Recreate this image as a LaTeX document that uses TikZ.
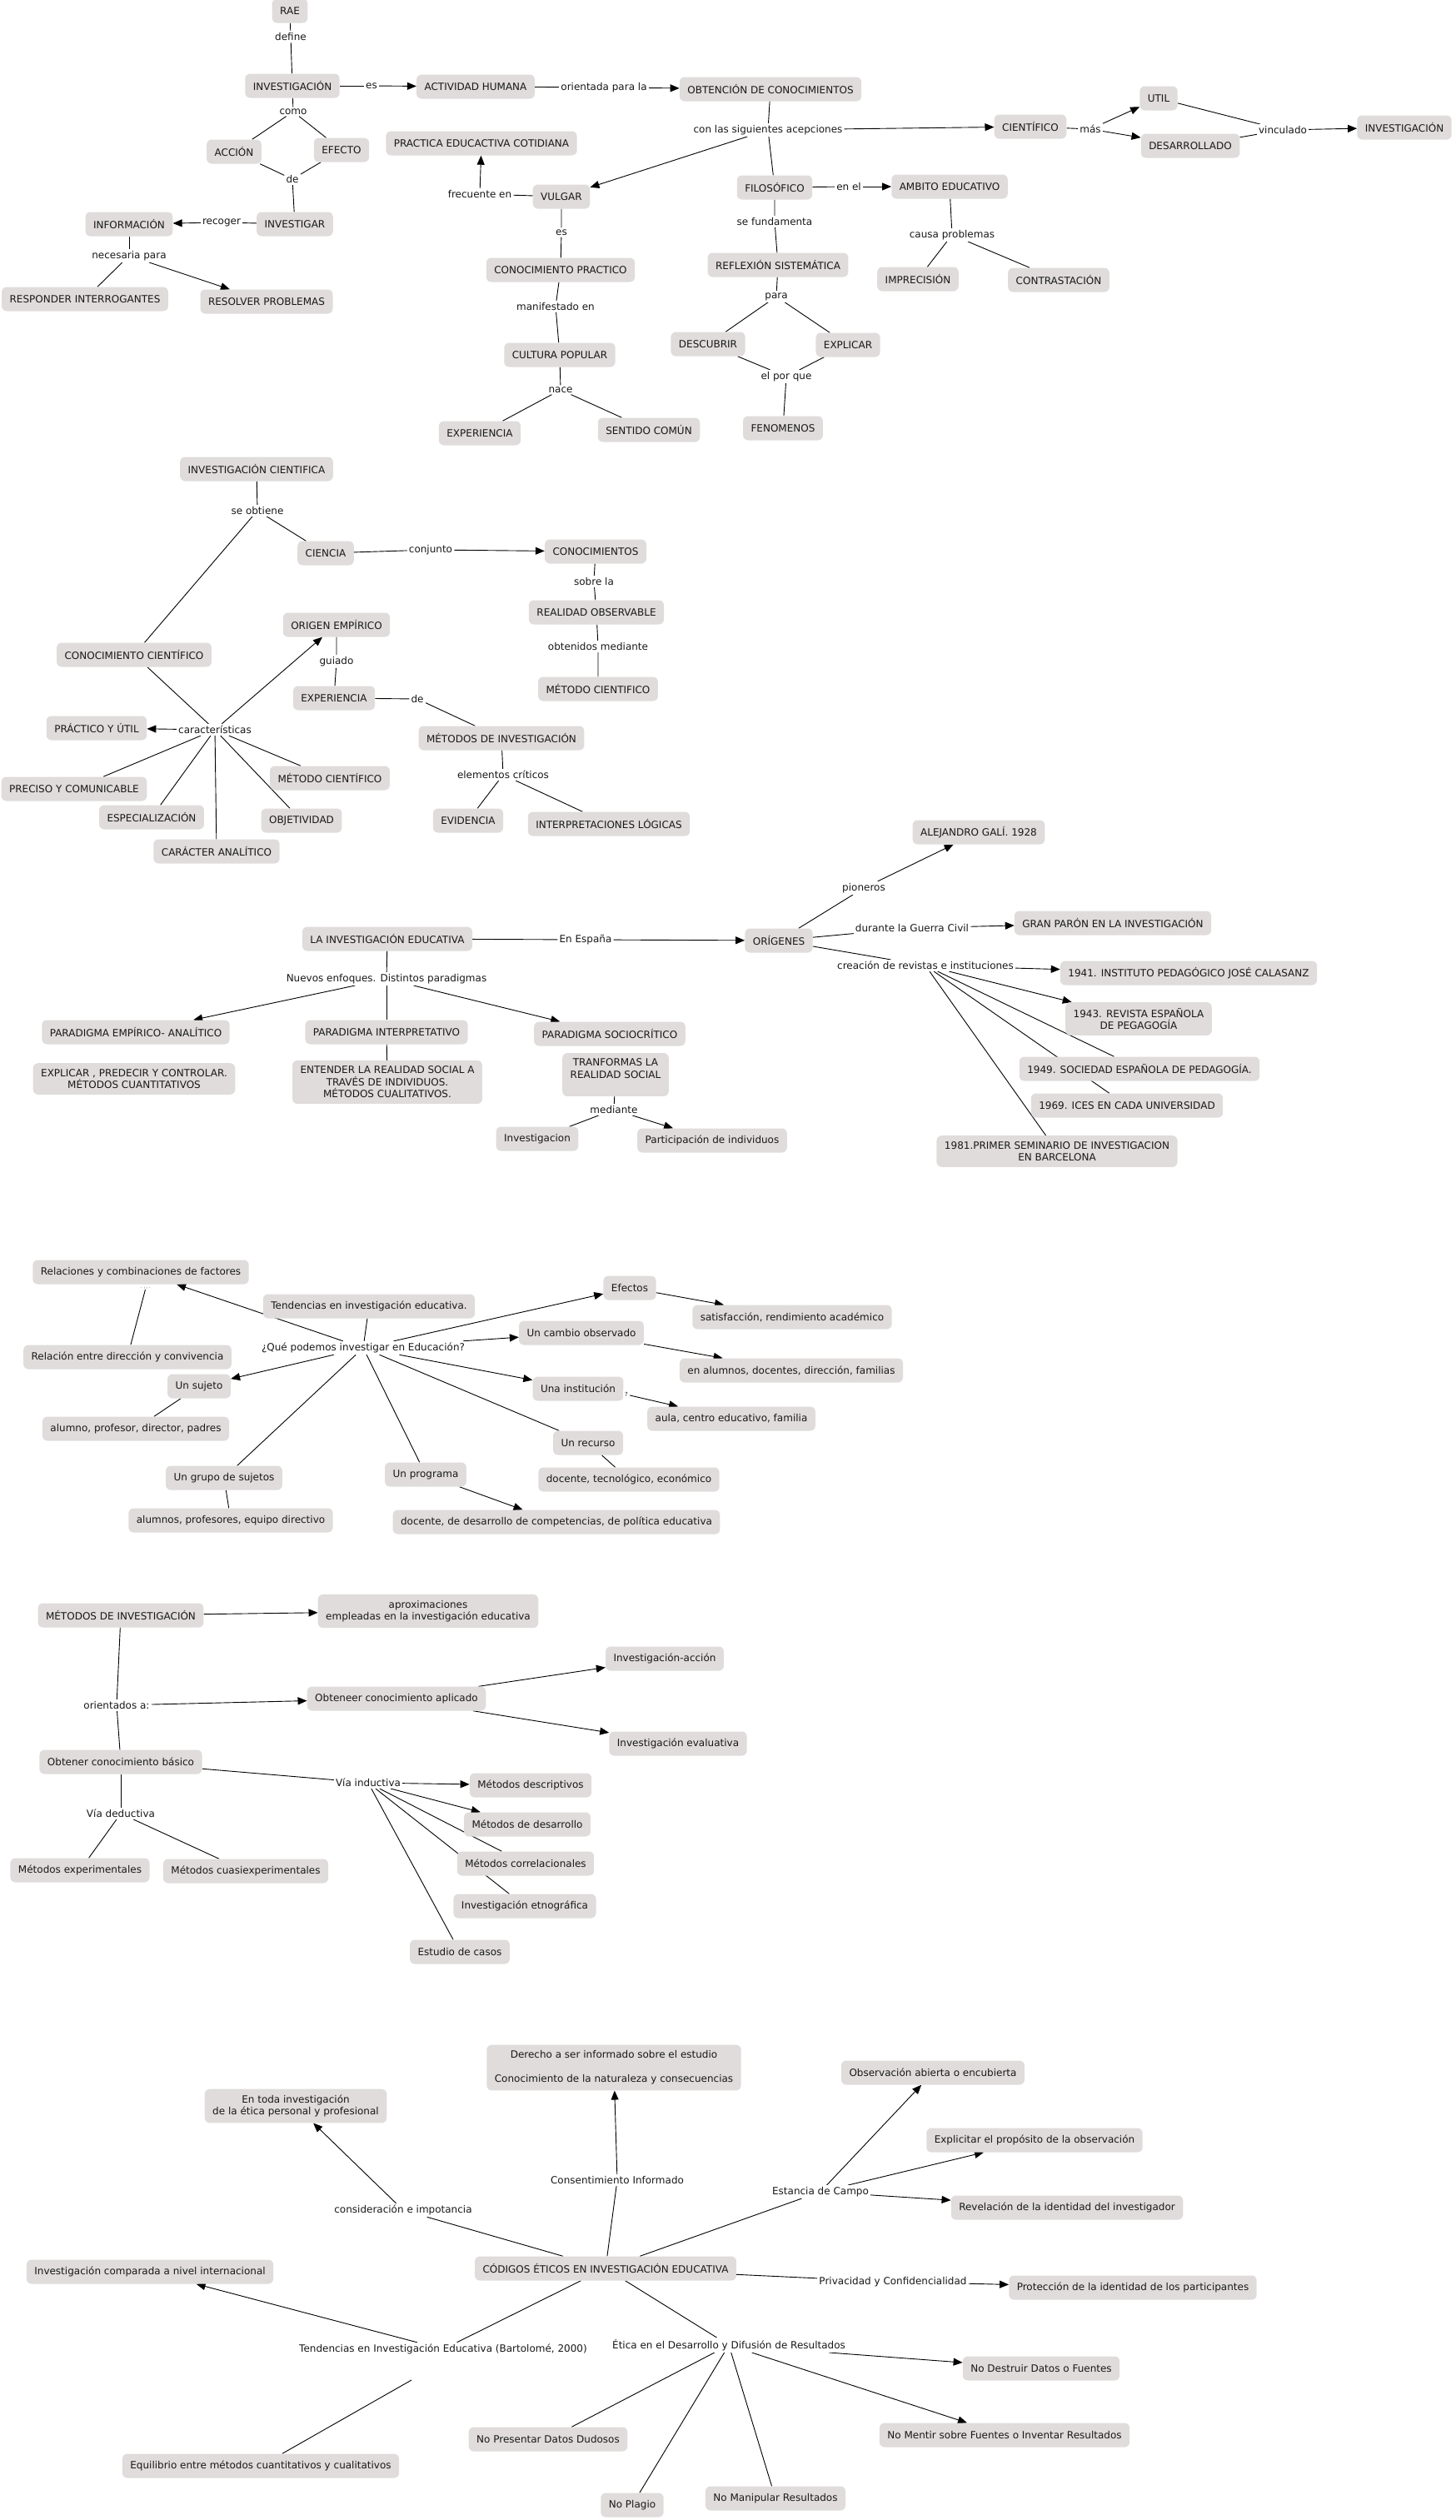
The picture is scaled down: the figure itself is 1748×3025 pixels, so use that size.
\documentclass[tikz,border=0pt]{standalone}
\usepackage{fontspec}
\setmainfont{DejaVu Sans}
\usetikzlibrary{arrows.meta,backgrounds}
\definecolor{boxgray}{RGB}{223,220,219}
\definecolor{inkgray}{RGB}{25,25,25}

\begin{document}
\begin{tikzpicture}[
    x=1pt, y=-1pt,
    font=\fontsize{12pt}{14.5pt}\selectfont,
    concept/.style={rectangle, rounded corners=6pt, fill=boxgray, text=inkgray,
                    inner xsep=9.5pt, inner ysep=7pt, minimum height=29pt, align=center},
    linkword/.style={fill=white, text=inkgray, inner sep=2pt, align=center},
    conn/.style={draw=black, line width=0.9pt},
    arr/.style={conn, -{Triangle[length=11pt,width=9pt]}},
]
    \useasboundingbox (0,0) rectangle (1748,3025);

    % Bloque 1: definicion de investigacion (RAE)
    \node[concept] (rae)          at (348,13)  {RAE};
    \node[linkword] (lDefine)     at (349,44)  {define};
    \node[concept] (inv)          at (351,103) {INVESTIGACIÓN};
    \node[linkword] (lEs)         at (446,103) {es};
    \node[concept] (actHum)       at (571,104) {ACTIVIDAD HUMANA};
    \node[linkword] (lOrient)     at (725,105) {orientada para la};
    \node[concept] (obtCon)       at (925,107) {OBTENCIÓN DE CONOCIMIENTOS};
    \node[linkword] (lComo)       at (352,134) {como};
    \node[concept] (accion)       at (281,182) {ACCIÓN};
    \node[concept] (efecto)       at (410,180) {EFECTO};
    \node[linkword] (lDe)         at (351,215) {de};
    \node[concept] (investigar)   at (354,269) {INVESTIGAR};
    \node[linkword] (lRecoger)    at (266,267) {recoger};
    \node[concept] (info)         at (155,269) {INFORMACIÓN};
    \node[linkword] (lNecesaria)  at (155,307) {necesaria para};
    \node[concept] (responder)    at (102,359) {RESPONDER INTERROGANTES};
    \node[concept] (resolver)     at (320,362) {RESOLVER PROBLEMAS};

    % Acepciones: vulgar, cientifico, filosofico
    \node[linkword] (lAcep)       at (922,156) {con las siguientes acepciones};
    \node[concept] (practica)     at (578,172) {PRACTICA EDUCACTIVA COTIDIANA};
    \node[linkword] (lFrecuente)  at (576,233) {frecuente en};
    \node[concept] (vulgar)       at (674,236) {VULGAR};
    \node[linkword] (lEsB)        at (674,279) {es};
    \node[concept] (conPract)     at (673,324) {CONOCIMIENTO PRACTICO};
    \node[linkword] (lManif)      at (667,368) {manifestado en};
    \node[concept] (cultura)      at (672,426) {CULTURA POPULAR};
    \node[linkword] (lNace)       at (673,468) {nace};
    \node[concept] (experiencia)  at (576,520) {EXPERIENCIA};
    \node[concept] (sentido)      at (779,516) {SENTIDO COMÚN};
    \node[concept] (cientifico)   at (1237,152) {CIENTÍFICO};
    \node[linkword] (lMas)        at (1309,155) {más};
    \node[concept] (util)         at (1391,118) {UTIL};
    \node[concept] (desarrollado) at (1429,175) {DESARROLLADO};
    \node[linkword] (lVinc)       at (1540,156) {vinculado};
    \node[concept] (invB)         at (1686,153) {INVESTIGACIÓN};
    \node[concept] (filosofico)   at (930,225) {FILOSÓFICO};
    \node[linkword] (lEnEl)       at (1019,224) {en el};
    \node[concept] (ambito)       at (1140,224) {AMBITO EDUCATIVO};
    \node[linkword] (lCausa)      at (1143,282) {causa problemas};
    \node[concept] (imprecision)  at (1102,335) {IMPRECISIÓN};
    \node[concept] (contrast)     at (1271,336) {CONTRASTACIÓN};
    \node[linkword] (lFund)       at (930,266) {se fundamenta};
    \node[concept] (reflexion)    at (934,318) {REFLEXIÓN SISTEMÁTICA};
    \node[linkword] (lPara)       at (932,356) {para};
    \node[concept] (descubrir)    at (850,413) {DESCUBRIR};
    \node[concept] (explicar)     at (1018,414) {EXPLICAR};
    \node[linkword] (lPorQue)     at (944,452) {el por que};
    \node[concept] (fenomenos)    at (940,514) {FENOMENOS};

    % Bloque 2: investigacion cientifica
    \node[concept] (invCient)     at (308,563) {INVESTIGACIÓN CIENTIFICA};
    \node[linkword] (lObtiene)    at (309,613) {se obtiene};
    \node[concept] (ciencia)      at (391,664) {CIENCIA};
    \node[linkword] (lConjunto)   at (517,660) {conjunto};
    \node[concept] (conocimientos) at (715,662) {CONOCIMIENTOS};
    \node[linkword] (lSobre)      at (713,698) {sobre la};
    \node[concept] (realidad)     at (716,735) {REALIDAD OBSERVABLE};
    \node[linkword] (lObtenidos)  at (718,776) {obtenidos mediante};
    \node[concept] (metCient)     at (718,827) {MÉTODO CIENTIFICO};
    \node[concept] (conCient)     at (161,786) {CONOCIMIENTO CIENTÍFICO};
    \node[concept] (origen)       at (404,750) {ORIGEN EMPÍRICO};
    \node[linkword] (lGuiado)     at (404,794) {guiado};
    \node[concept] (experienciaB) at (401,838) {EXPERIENCIA};
    \node[linkword] (lDeB)        at (501,839) {de};
    \node[concept] (metInv)       at (602,886) {MÉTODOS DE INVESTIGACIÓN};
    \node[linkword] (lElem)       at (604,930) {elementos críticos};
    \node[concept] (evidencia)    at (562,985) {EVIDENCIA};
    \node[concept] (interp)       at (731,989) {INTERPRETACIONES LÓGICAS};
    \node[linkword] (lCaract)     at (258,876) {características};
    \node[concept] (practico)     at (116,874) {PRÁCTICO Y ÚTIL};
    \node[concept] (preciso)      at (89,947)  {PRECISO Y COMUNICABLE};
    \node[concept] (especial)     at (182,981) {ESPECIALIZACIÓN};
    \node[concept] (caracter)     at (260,1022) {CARÁCTER ANALÍTICO};
    \node[concept] (objetiv)      at (362,985) {OBJETIVIDAD};
    \node[concept] (metCientB)    at (396,934) {MÉTODO CIENTÍFICO};

    % Bloque 3: la investigacion educativa y sus origenes
    \node[concept] (invEdu)       at (465,1127) {LA INVESTIGACIÓN EDUCATIVA};
    \node[linkword] (lEspana)     at (703,1128) {En España};
    \node[linkword] (lEnfoques)   at (464,1175) {Nuevos enfoques. Distintos paradigmas};
    \node[concept] (pEmp)         at (163,1239) {PARADIGMA EMPÍRICO- ANALÍTICO};
    \node[concept] (pInt)         at (464,1239) {PARADIGMA INTERPRETATIVO};
    \node[concept] (pSoc)         at (732,1241) {PARADIGMA SOCIOCRÍTICO};
    \node[concept] (explicarB)    at (161,1295) {EXPLICAR , PREDECIR Y CONTROLAR.\\MÉTODOS CUANTITATIVOS};
    \node[concept] (entender)     at (465,1299) {ENTENDER LA REALIDAD SOCIAL A\\TRAVÉS DE INDIVIDUOS.\\MÉTODOS CUALITATIVOS.};
    \node[concept] (transf)       at (739,1290) {TRANFORMAS LA\\REALIDAD SOCIAL\\\mbox{}};
    \node[linkword] (lMediante)   at (737,1332) {mediante};
    \node[concept] (investigacion) at (645,1367) {Investigacion};
    \node[concept] (particip)     at (855,1369) {Participación de individuos};
    \node[concept] (origenes)     at (935,1129) {ORÍGENES};
    \node[linkword] (lPioneros)   at (1037,1066) {pioneros};
    \node[concept] (gali)         at (1175,999) {ALEJANDRO GALÍ. 1928};
    \node[linkword] (lGuerra)     at (1095,1114) {durante la Guerra Civil};
    \node[concept] (paron)        at (1336,1108) {GRAN PARÓN EN LA INVESTIGACIÓN};
    \node[linkword] (lCreacion)   at (1111,1159) {creación de revistas e instituciones};
    \node[concept] (y1941)        at (1427,1168) {1941. INSTITUTO PEDAGÓGICO JOSÉ CALASANZ};
    \node[concept] (y1943)        at (1367,1223) {1943. REVISTA ESPAÑOLA\\DE PEGAGOGÍA};
    \node[concept] (y1949)        at (1368,1283) {1949. SOCIEDAD ESPAÑOLA DE PEDAGOGÍA.};
    \node[concept] (y1969)        at (1353,1327) {1969. ICES EN CADA UNIVERSIDAD};
    \node[concept] (y1981)        at (1269,1382) {1981.PRIMER SEMINARIO  DE INVESTIGACION\\EN BARCELONA};

    % Bloque 4: que podemos investigar
    \node[concept] (tendEdu)      at (443,1568) {Tendencias en investigación educativa.};
    \node[linkword] (lQue)        at (436,1618) {¿Qué podemos investigar en Educación?};
    \node[concept] (relaciones)   at (169,1527) {Relaciones y combinaciones de factores};
    \node[linkword, font=\fontsize{5pt}{6pt}\selectfont, inner sep=1pt] (lDots) at (175,1546) {. , , .};
    \node[concept] (relacion)     at (153,1629) {Relación entre dirección y convivencia};
    \node[concept] (sujeto)       at (239,1664) {Un sujeto};
    \node[concept] (alumno)       at (163,1715) {alumno, profesor, director, padres};
    \node[concept] (grupo)        at (269,1774) {Un grupo de sujetos};
    \node[concept] (alumnos)      at (277,1825) {alumnos, profesores, equipo directivo};
    \node[concept] (programa)     at (511,1770) {Un programa};
    \node[concept] (docenteA)     at (668,1827) {docente, de desarrollo de competencias, de política educativa};
    \node[concept] (recurso)      at (706,1732) {Un recurso};
    \node[concept] (docenteB)     at (755,1776) {docente, tecnológico, económico};
    \node[concept] (institucion)  at (694,1667) {Una institución};
    \node[linkword, font=\fontsize{7pt}{8pt}\selectfont] (lQm) at (752,1674) {?};
    \node[concept] (aula)         at (878,1703) {aula, centro educativo, familia};
    \node[concept] (cambio)       at (698,1600) {Un cambio observado};
    \node[concept] (enAlumnos)    at (950,1645) {en alumnos, docentes, dirección, familias};
    \node[concept] (efectos)      at (756,1546) {Efectos};
    \node[concept] (satisf)       at (951,1581) {satisfacción, rendimiento académico};

    % Bloque 5: metodos de investigacion
    \node[concept] (metInvB)      at (145,1939) {MÉTODOS DE INVESTIGACIÓN};
    \node[concept] (aprox)        at (514,1934) {aproximaciones\\empleadas en la investigación educativa};
    \node[linkword] (lOrientados) at (140,2047) {orientados a:};
    \node[concept] (aplicado)     at (476,2039) {Obteneer conocimiento aplicado};
    \node[concept] (invAccion)    at (798,1991) {Investigación-acción};
    \node[concept] (invEval)      at (814,2093) {Investigación evaluativa};
    \node[concept] (basico)       at (145,2115) {Obtener conocimiento básico};
    \node[linkword] (lDeductiva)  at (145,2177) {Vía deductiva};
    \node[concept] (metExp)       at (96,2245)  {Métodos experimentales};
    \node[concept] (metCuasi)     at (295,2246) {Métodos cuasiexperimentales};
    \node[linkword] (lInductiva)  at (442,2140) {Vía inductiva};
    \node[concept] (metDesc)      at (637,2143) {Métodos descriptivos};
    \node[concept] (metDes)       at (633,2190) {Métodos de desarrollo};
    \node[concept] (metCorr)      at (631,2237) {Métodos correlacionales};
    \node[concept] (invEtno)      at (630,2288) {Investigación etnográfica};
    \node[concept] (estudio)      at (552,2343) {Estudio de casos};

    % Bloque 6: codigos eticos
    \node[concept] (codigos)      at (727,2723) {CÓDIGOS ÉTICOS EN INVESTIGACIÓN EDUCATIVA};
    \node[concept] (derecho)      at (737,2482) {Derecho a ser informado sobre el estudio\\\mbox{}\\Conocimiento de la naturaleza y consecuencias};
    \node[linkword] (lConsent)    at (741,2617) {Consentimiento Informado};
    \node[concept] (enToda)       at (355,2528) {En toda investigación\\de la ética personal y profesional};
    \node[linkword] (lConsid)     at (484,2653) {consideración e impotancia};
    \node[concept] (comparada)    at (180,2727) {Investigación comparada a nivel internacional};
    \node[linkword] (lTendB)      at (532,2820) {Tendencias en Investigación Educativa (Bartolomé, 2000)};
    \coordinate (tendFoot)        at (494,2857);
    \node[concept] (equilibrio)   at (313,2960) {Equilibrio entre métodos cuantitativos y cualitativos};
    \node[linkword] (lEtica)      at (875,2815) {Ética en el Desarrollo y Difusión de Resultados};
    \node[concept] (noPresentar)  at (658,2928) {No Presentar Datos Dudosos};
    \node[concept] (noPlagio)     at (759,3007) {No Plagio};
    \node[concept] (noManip)      at (931,2999) {No Manipular Resultados};
    \node[concept] (noMentir)     at (1206,2923) {No Mentir sobre Fuentes o Inventar Resultados};
    \node[concept] (noDestruir)   at (1250,2843) {No Destruir Datos o Fuentes};
    \node[linkword] (lPrivacidad) at (1072,2739) {Privacidad y Confidencialidad};
    \node[concept] (proteccion)   at (1360,2746) {Protección de la identidad de los participantes};
    \node[linkword] (lEstancia)   at (985,2631) {Estancia de Campo};
    \node[concept] (observacion)  at (1120,2488) {Observación abierta o encubierta};
    \node[concept] (explicitar)   at (1242,2569) {Explicitar el propósito de la observación};
    \node[concept] (revelacion)   at (1281,2650) {Revelación de la identidad del investigador};

    % Conectores (detras de las cajas)
    \begin{pgfonlayer}{background}
    \draw[conn] (rae) -- (lDefine) -- (inv);
    \draw[conn] (inv) -- (lEs);
    \draw[arr] (lEs) -- (actHum);
    \draw[conn] (actHum) -- (lOrient);
    \draw[arr] (lOrient) -- (obtCon);
    \draw[conn] (inv) -- (lComo);
    \draw[conn] (lComo) -- (accion);
    \draw[conn] (lComo) -- (efecto);
    \draw[conn] (accion) -- (lDe);
    \draw[conn] (efecto) -- (lDe);
    \draw[conn] (lDe) -- (investigar);
    \draw[conn] (investigar) -- (lRecoger);
    \draw[arr] (lRecoger) -- (info);
    \draw[conn] (info) -- (lNecesaria);
    \draw[conn] (lNecesaria) -- (responder);
    \draw[arr] (lNecesaria) -- (resolver);

    \draw[conn] (obtCon) -- (lAcep);
    \draw[arr] (lAcep) -- (vulgar);
    \draw[arr] (lAcep) -- (cientifico);
    \draw[conn] (lAcep) -- (filosofico);
    \draw[conn] (vulgar) -- (lFrecuente);
    \draw[arr] (lFrecuente) -- (practica);
    \draw[conn] (vulgar) -- (lEsB) -- (conPract) -- (lManif) -- (cultura) -- (lNace);
    \draw[conn] (lNace) -- (experiencia);
    \draw[conn] (lNace) -- (sentido);
    \draw[conn] (cientifico) -- (lMas);
    \draw[arr] (lMas) -- (util);
    \draw[arr] (lMas) -- (desarrollado);
    \draw[conn] (util) -- (lVinc);
    \draw[conn] (desarrollado) -- (lVinc);
    \draw[arr] (lVinc) -- (invB);
    \draw[conn] (filosofico) -- (lEnEl);
    \draw[arr] (lEnEl) -- (ambito);
    \draw[conn] (ambito) -- (lCausa);
    \draw[conn] (lCausa) -- (imprecision);
    \draw[conn] (lCausa) -- (contrast);
    \draw[conn] (filosofico) -- (lFund) -- (reflexion) -- (lPara);
    \draw[conn] (lPara) -- (descubrir);
    \draw[conn] (lPara) -- (explicar);
    \draw[conn] (descubrir) -- (lPorQue);
    \draw[conn] (explicar) -- (lPorQue);
    \draw[conn] (lPorQue) -- (fenomenos);

    \draw[conn] (invCient) -- (lObtiene);
    \draw[conn] (lObtiene) -- (ciencia);
    \draw[conn] (lObtiene) -- (conCient);
    \draw[conn] (ciencia) -- (lConjunto);
    \draw[arr] (lConjunto) -- (conocimientos);
    \draw[conn] (conocimientos) -- (lSobre) -- (realidad) -- (lObtenidos) -- (metCient);
    \draw[conn] (conCient) -- (lCaract);
    \draw[arr] (lCaract) -- (practico);
    \draw[arr] (lCaract) -- (origen);
    \foreach \c in {preciso,especial,caracter,objetiv,metCientB}
      \draw[conn] (lCaract) -- (\c);
    \draw[conn] (origen) -- (lGuiado) -- (experienciaB) -- (lDeB) -- (metInv) -- (lElem);
    \draw[conn] (lElem) -- (evidencia);
    \draw[conn] (lElem) -- (interp);

    \draw[conn] (invEdu) -- (lEspana);
    \draw[arr] (lEspana) -- (origenes);
    \draw[conn] (invEdu) -- (lEnfoques);
    \draw[arr] (lEnfoques) -- (pEmp);
    \draw[conn] (lEnfoques) -- (pInt);
    \draw[arr] (lEnfoques) -- (pSoc);
    \draw[conn] (pInt) -- (entender);
    \draw[conn] (transf) -- (lMediante);
    \draw[conn] (lMediante) -- (investigacion);
    \draw[arr] (lMediante) -- (particip);
    \draw[conn] (origenes) -- (lPioneros);
    \draw[arr] (lPioneros) -- (gali);
    \draw[conn] (origenes) -- (lGuerra);
    \draw[arr] (lGuerra) -- (paron);
    \draw[conn] (origenes) -- (lCreacion);
    \draw[arr] (lCreacion) -- (y1941);
    \draw[arr] (lCreacion) -- (y1943);
    \foreach \y in {y1949,y1969,y1981}
      \draw[conn] (lCreacion) -- (\y);

    \draw[conn] (tendEdu) -- (lQue);
    \foreach \t in {relaciones,sujeto,institucion,cambio,efectos}
      \draw[arr] (lQue) -- (\t);
    \foreach \t in {grupo,programa,recurso}
      \draw[conn] (lQue) -- (\t);
    \draw[conn] (relacion) -- (lDots);
    \draw[conn] (sujeto) -- (alumno);
    \draw[conn] (grupo) -- (alumnos);
    \draw[arr] (programa) -- (docenteA);
    \draw[conn] (recurso) -- (docenteB);
    \draw[arr] (lQm) -- (aula);
    \draw[arr] (cambio) -- (enAlumnos);
    \draw[arr] (efectos) -- (satisf);

    \draw[arr] (metInvB) -- (aprox);
    \draw[conn] (metInvB) -- (lOrientados) -- (basico);
    \draw[arr] (lOrientados) -- (aplicado);
    \draw[arr] (aplicado) -- (invAccion);
    \draw[arr] (aplicado) -- (invEval);
    \draw[conn] (basico) -- (lDeductiva);
    \draw[conn] (lDeductiva) -- (metExp);
    \draw[conn] (lDeductiva) -- (metCuasi);
    \draw[conn] (basico) -- (lInductiva);
    \draw[arr] (lInductiva) -- (metDesc);
    \draw[arr] (lInductiva) -- (metDes);
    \foreach \m in {metCorr,invEtno,estudio}
      \draw[conn] (lInductiva) -- (\m);

    \draw[conn] (codigos) -- (lConsid);
    \draw[arr] (lConsid) -- (enToda);
    \draw[conn] (codigos) -- (lConsent);
    \draw[arr] (lConsent) -- (derecho);
    \draw[conn] (codigos) -- (lEstancia);
    \foreach \e in {observacion,explicitar,revelacion}
      \draw[arr] (lEstancia) -- (\e);
    \draw[conn] (codigos) -- (lPrivacidad);
    \draw[arr] (lPrivacidad) -- (proteccion);
    \draw[conn] (codigos) -- (lTendB);
    \draw[arr] (lTendB) -- (comparada);
    \draw[conn] (tendFoot) -- (equilibrio);
    \draw[conn] (codigos) -- (lEtica);
    \draw[arr] (lEtica) -- (noDestruir);
    \draw[arr] (lEtica) -- (noMentir);
    \foreach \n in {noPresentar,noPlagio,noManip}
      \draw[conn] (lEtica) -- (\n);
    \end{pgfonlayer}
\end{tikzpicture}
\end{document}
